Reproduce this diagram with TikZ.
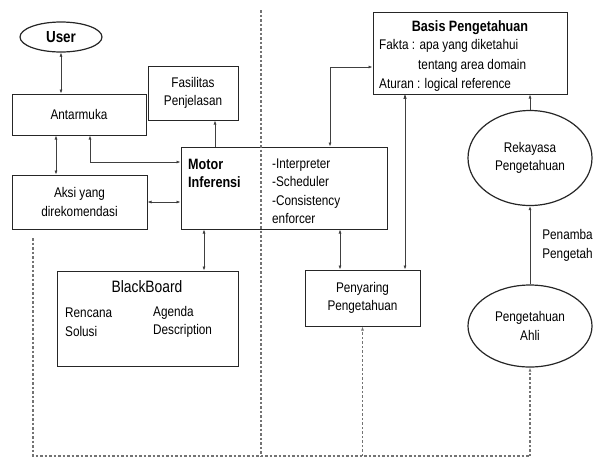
\documentclass[tikz,border=0pt]{standalone}
\usepackage{fontspec}
\setmainfont{Liberation Sans}[FakeStretch=0.84]
\usetikzlibrary{arrows.meta, shapes.geometric}

\begin{document}
\begin{tikzpicture}[x=1pt,y=-1pt,>={Latex[length=4pt,width=3pt]},
        every node/.style={font=\fontsize{14}{18.5}\selectfont, inner sep=0pt},
        box/.style={draw=black!85, line width=1pt, align=center},
        bubble/.style={ellipse, draw=black!85, line width=1.2pt, align=center},
        link/.style={draw=black!75, line width=0.7pt},
        feed/.style={draw=black!55, line width=1.4pt, dash pattern=on 2.5pt off 2pt},
        title/.style={font=\fontsize{15}{18}\selectfont\bfseries}]
    \clip (0,0) rectangle (593,459);

      % left side
      \node[bubble, minimum width=82, minimum height=30, title, font=\fontsize{16}{18}\selectfont\bfseries] (user) at (61,37) {User};
      \node[box, minimum width=134, minimum height=41] (antar) at (79,114.5) {Antarmuka};
      \node[box, minimum width=90, minimum height=54] (fas) at (193,93) {Fasilitas\\Penjelasan};
      \node[box, minimum width=135, minimum height=54] (aksi) at (79.5,202) {Aksi yang\\direkomendasi};

      % motor inferensi
      \node[box, minimum width=206, minimum height=82] (motor) at (284,188) {};
      \node[title, anchor=west, align=left] (motortxt) at (188,173) {Motor\\Inferensi};
      \node[anchor=west, align=left] (motorlist) at (272,191) {-Interpreter\\-Scheduler\\-Consistency\\enforcer};

      % blackboard
      \node[box, minimum width=181, minimum height=95] (black) at (147.5,318.5) {};
      \node[font=\fontsize{16.5}{18}\selectfont] (blacktxt) at (147,287) {BlackBoard};
      \node[anchor=west, align=left] (rencana) at (65,322) {Rencana\\Solusi};
      \node[anchor=west, align=left] (agenda) at (153,322) {Agenda\\Description};

      % right side
      \node[box, minimum width=194, minimum height=82] (basis) at (470,53) {};
      \node[title] (basistxt) at (470,28) {Basis Pengetahuan};
      \node[anchor=west] (fakta) at (379,46) {Fakta : apa yang diketahui};
      \node[anchor=west] (domain) at (418,66) {tentang area domain};
      \node[anchor=west] (aturan) at (379,85) {Aturan : logical reference};
      \node[box, minimum width=115, minimum height=56] (peny) at (362.5,298) {Penyaring\\Pengetahuan};
      \node[bubble, minimum width=124, minimum height=95] (rek) at (530,158) {Rekayasa\\Pengetahuan};
      \node[bubble, minimum width=124, minimum height=82] (ahli) at (530,326) {Pengetahuan\\Ahli};

      % feedback lines
      \coordinate (fbleft) at (33,238);
      \coordinate (fbmid) at (261,10);
      \coordinate (fbbase) at (33,456);
      \coordinate (fbend) at (530,456);

      \path[link, <->] (user.south) edge (user.south |- antar.north)
                ([xshift=-23]antar.south) edge ([xshift=-23]antar.south |- aksi.north)
                (aksi.east) edge (aksi.east -| motor.west)
                ([xshift=-80]motor.south) edge ([xshift=-80]motor.south |- black.north)
                ([xshift=56]motor.south) edge ([xshift=56]motor.south |- peny.north)
                ([xshift=-65]basis.south) edge ([xshift=-65]basis.south |- peny.north);
      \draw[link, <->] ([xshift=11]antar.south) |- ([yshift=26]motor.west);
      \draw[link, <->] ([xshift=46]motor.north) |- ([yshift=-14]basis.west);
      \draw[link, ->] ([xshift=-69]motor.north) -- ([xshift=-69]motor.north |- fas.south);
      \draw[link, ->] (rek.north) -- (rek.north |- basis.south);
      \draw[link, ->] (ahli.north) -- node[right=12pt, align=left] {Penambahan\\Pengetahuan} (rek.south);

      \draw[feed] (fbleft) -- (fbbase) -- (fbend);
      \draw[feed] (fbmid) -- (fbmid |- fbbase);
      \draw[feed, ->] (fbbase -| peny.south) -- (peny.south);
      \draw[feed, ->] (fbend) -- (ahli.south);
    \end{tikzpicture}
\end{document}
